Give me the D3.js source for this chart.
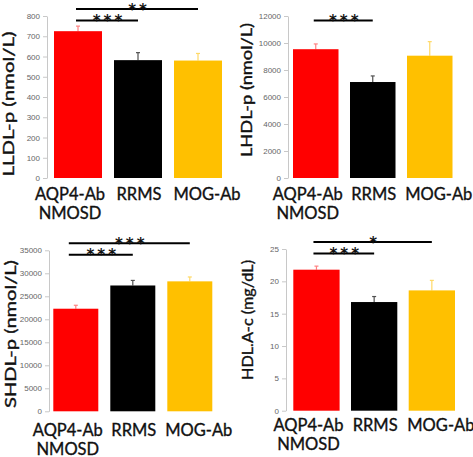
<!DOCTYPE html>
<html>
<head>
<meta charset="utf-8">
<script src="https://cdn.jsdelivr.net/npm/d3@7"></script>
<style>
  html, body { margin: 0; padding: 0; background: #fff; }
  svg { display: block; }
</style>
</head>
<body>
<svg id="chart" width="473" height="457"></svg>
<script>
// ---------------- DATA ----------------
const groups = ["AQP4-Ab", "RRMS", "MOG-Ab"];
const groupSub = ["NMOSD", "", ""];
const barColors = ["#ff0000", "#000000", "#ffc000"];
const errColors = ["#ff8080", "#505050", "#ffd966"];

const lldlMean = [725, 582, 580];
const lldlSE   = [25, 37, 35];
const lldlTicks = [0, 100, 200, 300, 400, 500, 600, 700, 800];

const lhdlMean = [9540, 7110, 9060];
const lhdlSE   = [390, 450, 1040];
const lhdlTicks = [0, 2000, 4000, 6000, 8000, 10000, 12000];

const shdlMean = [22300, 27350, 28250];
const shdlSE   = [750, 1100, 950];
const shdlTicks = [0, 5000, 10000, 15000, 20000, 25000, 30000, 35000];

const hdlaMean = [21.8, 16.8, 18.6];
const hdlaSE   = [0.55, 0.85, 1.55];
const hdlaTicks = [0, 5, 10, 15, 20, 25];

// significance brackets: [fromIndex, toIndex, label, level]
const lldlSig = [[0, 1, "***", 0], [0, 2, "**", 1]];
const lhdlSig = [[0, 1, "***", 0]];
const shdlSig = [[0, 1, "***", 0], [0, 2, "***", 1]];
const hdlaSig = [[0, 1, "***", 0], [0, 2, "*", 1]];

const yTitles = ["LLDL-p (nmol/L)", "LHDL-p (nmol/L)", "SHDL-p (nmol/L)", "HDL.A-c (mg/dL)"];

// ---------------- LAYOUT ----------------
const panels = [
  { mean: lldlMean, se: lldlSE, ticks: lldlTicks, sig: lldlSig, title: yTitles[0],
    axisX: 47, yTop: 16, y0: 178, barStart: 54, step: 60, bw: 48,
    labY: 200, titleX: 14, titleY: 104, titleLen: 145, lineX0: -2 },
  { mean: lhdlMean, se: lhdlSE, ticks: lhdlTicks, sig: lhdlSig, title: yTitles[1],
    axisX: 288, yTop: 16, y0: 178, barStart: 293, step: 57, bw: 45.5,
    labY: 200, titleX: 252, titleY: 90, titleLen: 134, lineX0: -2 },
  { mean: shdlMean, se: shdlSE, ticks: shdlTicks, sig: shdlSig, title: yTitles[2],
    axisX: 49, yTop: 250.3, y0: 411.3, barStart: 53.3, step: 57, bw: 45,
    labY: 436, titleX: 15.5, titleY: 334, titleLen: 148, lineX0: -7 },
  { mean: hdlaMean, se: hdlaSE, ticks: hdlaTicks, sig: hdlaSig, title: yTitles[3],
    axisX: 286, yTop: 249, y0: 410.7, barStart: 293.3, step: 57.7, bw: 46.3,
    labY: 431, titleX: 253, titleY: 320, titleLen: 120, lineX0: -3 }
];
const labDx = [-8, 1, 9];
const subDx = -8;

const svg = d3.select("#chart");

panels.forEach(p => {
  const g = svg.append("g");
  const ymax = p.ticks[p.ticks.length - 1];
  const y = d3.scaleLinear().domain([0, ymax]).range([p.y0, p.yTop]);
  const pi = 1 - p.bw / p.step;
  const x = d3.scaleBand().domain(groups)
    .range([p.barStart, p.barStart + 3 * p.step - (p.step - p.bw)])
    .paddingInner(pi).paddingOuter(0);

  // axis
  const ax = g.append("g")
    .attr("transform", `translate(${p.axisX},0)`)
    .call(d3.axisLeft(y).tickValues(p.ticks).tickSize(4).tickSizeOuter(0).tickPadding(3)
      .tickFormat(d3.format("d")));
  ax.select(".domain").attr("stroke", "#c8c8c8");
  ax.selectAll(".tick line").attr("stroke", "#c8c8c8");
  ax.selectAll(".tick text")
    .attr("fill", "#666")
    .style("font-family", "'Liberation Sans', Arial, sans-serif")
    .style("font-size", "8px");

  // error bars
  const errs = groups.map((k, i) => ({ k, i, m: p.mean[i], e: p.se[i] }));
  g.selectAll(".err").data(errs).enter().append("line")
    .attr("x1", d => x(d.k) + x.bandwidth() / 2)
    .attr("x2", d => x(d.k) + x.bandwidth() / 2)
    .attr("y1", d => y(d.m))
    .attr("y2", d => y(d.m + d.e))
    .attr("stroke", d => errColors[d.i]).attr("stroke-width", 1.2);
  g.selectAll(".cap").data(errs).enter().append("line")
    .attr("x1", d => x(d.k) + x.bandwidth() / 2 - 2)
    .attr("x2", d => x(d.k) + x.bandwidth() / 2 + 2)
    .attr("y1", d => y(d.m + d.e))
    .attr("y2", d => y(d.m + d.e))
    .attr("stroke", d => errColors[d.i]).attr("stroke-width", 1.2);

  // bars
  g.selectAll(".bar").data(errs).enter().append("rect")
    .attr("x", d => x(d.k))
    .attr("width", x.bandwidth())
    .attr("y", d => y(d.m))
    .attr("height", d => p.y0 - y(d.m))
    .attr("fill", d => barColors[d.i]);

  // category labels
  const labStyle = sel => sel
    .attr("text-anchor", "middle")
    .style("font-family", "Lato, 'Open Sans', sans-serif")
    .style("font-size", "16.5px")
    .attr("fill", "#111")
    .attr("stroke", "#111")
    .attr("stroke-width", 0.35);
  g.selectAll(".lab").data(groups).enter().append("text")
    .attr("x", (d, i) => x(d) + x.bandwidth() / 2 + labDx[i])
    .attr("y", p.labY)
    .call(labStyle)
    .text(d => d);
  g.selectAll(".sub").data(groups.filter((d, i) => groupSub[i])).enter().append("text")
    .attr("x", d => x(d) + x.bandwidth() / 2 + subDx)
    .attr("y", p.labY + 18.5)
    .call(labStyle)
    .text(d => groupSub[groups.indexOf(d)]);

  // y title
  g.append("text")
    .attr("transform", `translate(${p.titleX},${p.titleY}) rotate(-90)`)
    .attr("text-anchor", "middle")
    .attr("textLength", p.titleLen)
    .attr("lengthAdjust", "spacingAndGlyphs")
    .style("font-family", "Lato, 'Open Sans', sans-serif")
    .style("font-size", "14.5px")
    .attr("fill", "#111")
    .attr("stroke", "#111")
    .attr("stroke-width", 0.35)
    .text(p.title);

  // significance lines
  p.sig.forEach(([a, b, lab, lvl]) => {
    const ly = lvl === 0 ? p.yTop + 4.5 : p.yTop - 7;
    const xa = x(groups[a]) + x.bandwidth() / 2 + p.lineX0;
    const xb = x(groups[b]) + x.bandwidth() / 2;
    g.append("line").attr("x1", xa).attr("x2", xb).attr("y1", ly).attr("y2", ly)
      .attr("stroke", "#000").attr("stroke-width", 2);
    g.append("text")
      .attr("x", (xa + xb) / 2 + 2).attr("y", ly + 5.5)
      .attr("text-anchor", "middle")
      .style("font-family", "'DejaVu Sans', sans-serif")
      .style("font-size", "15px")
      .style("font-weight", "bold")
      .style("letter-spacing", "3px")
      .attr("fill", "#111")
      .text(lab);
  });
});
</script>
</body>
</html>
